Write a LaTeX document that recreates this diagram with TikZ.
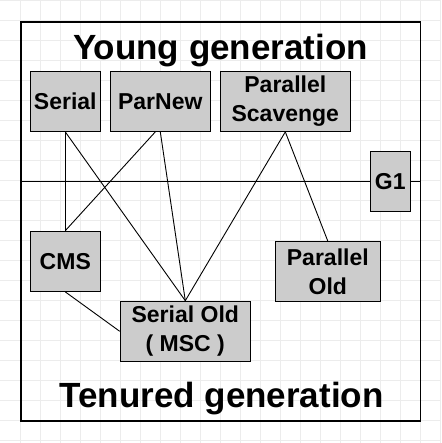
\documentclass[tikz,border=0pt]{standalone}
\usepackage{fontspec}
\setmainfont{Liberation Sans}[BoldFont={Liberation Sans Bold}]
\definecolor{boxgray}{RGB}{204,204,204}
\definecolor{gridgray}{RGB}{236,236,236}
\begin{document}
\begin{tikzpicture}[x=1pt,y=1pt,
  box/.style={draw=black,line width=1.2pt,fill=boxgray,inner sep=0pt,align=center,
    font=\bfseries\fontsize{23}{29}\selectfont},
  title/.style={font=\bfseries\fontsize{35}{40}\selectfont,inner sep=0pt,anchor=base},
  conn/.style={draw=black,line width=0.9pt},
  gridline/.style={draw=gridgray,line width=0.6pt}]
\fill[white] (0,0) rectangle (441,443);
\useasboundingbox (0,0) rectangle (441,443);
\foreach \i in {20,40,...,440} {
  \draw[gridline] (\i,0) -- (\i,443);
}
\foreach \j in {3,23,...,443} {
  \draw[gridline] (0,\j) -- (441,\j);
}
% frame (y values are 443 - pixel row)
\draw[line width=1.2pt] (21,421) rectangle (420.5,22);
\coordinate (hl) at (21,261.3);
\coordinate (hr) at (420.5,261.3);
\draw[conn] (hl) -- (hr);
% titles
\node[title] (young) at (220.5,383) {Young generation};
\node[title] (tenured) at (221.5,35) {Tenured generation};
% boxes
\node[box,minimum width=70pt,minimum height=59.6pt] (serial) at (65.3,341.5) {Serial};
\node[box,minimum width=100pt,minimum height=59.6pt] (parnew) at (160.3,341.5) {ParNew};
\node[box,minimum width=130pt,minimum height=59.6pt] (ps) at (285.3,341.5) {Parallel\\Scavenge};
\node[box,minimum width=40pt,minimum height=59.6pt] (g1) at (390.3,261.5) {G1};
\node[box,minimum width=70pt,minimum height=60pt] (cms) at (65.3,181.7) {CMS};
\node[box,minimum width=105pt,minimum height=59.6pt] (pold) at (327.8,171.5) {Parallel\\Old};
\node[box,minimum width=130pt,minimum height=60pt] (sold) at (185.3,111.7) {Serial Old\\( MSC )};
% connectors
\draw[conn] (serial.south) -- (cms.north);
\draw[conn] (serial.south) -- (sold.north);
\draw[conn] ([xshift=-5pt]parnew.south) -- (cms.north);
\draw[conn] (parnew.south) -- (sold.north);
\draw[conn] (ps.south) -- (sold.north);
\draw[conn] (ps.south) -- (pold.north);
\draw[conn] (cms.south) -- (sold.west);
\end{tikzpicture}
\end{document}
